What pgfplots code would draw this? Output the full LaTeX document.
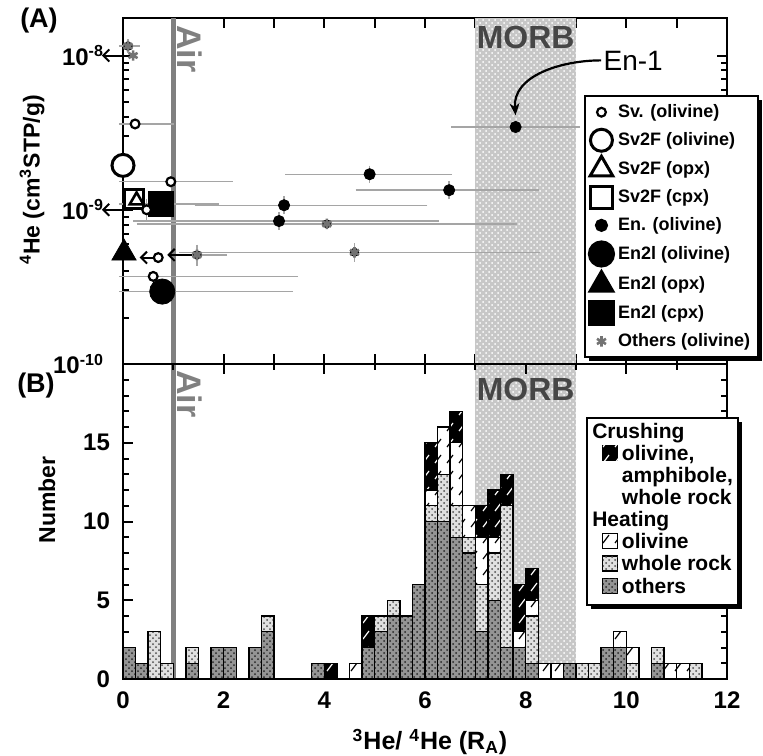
\documentclass[border=0pt]{standalone}
\usepackage{fontspec}
\setmainfont{Liberation Sans}
\usepackage{pgfplots}
\usepackage{pgfplotstable}
\pgfplotsset{compat=1.18}
\usetikzlibrary{patterns,shadows,arrows.meta}

\definecolor{airgray}{RGB}{128,128,128}
\definecolor{morbtext}{RGB}{70,70,70}
\definecolor{errgray}{RGB}{165,165,165}
\definecolor{othgray}{RGB}{115,115,115}

% sparse slash used for olivine / crushing bars
\pgfdeclarepatternformonly{sparse ne}{\pgfqpoint{-1pt}{-1pt}}{\pgfqpoint{7pt}{9pt}}{\pgfqpoint{6pt}{8pt}}{%
  \pgfsetlinewidth{0.6pt}%
  \pgfpathmoveto{\pgfqpoint{1.5pt}{2pt}}%
  \pgfpathlineto{\pgfqpoint{4.5pt}{6pt}}%
  \pgfusepath{stroke}}

\tikzset{
  oth/.style={fill=black!42, postaction={pattern=crosshatch dots, pattern color=black!85}},
  wr/.style={fill=black!12, postaction={pattern=crosshatch dots, pattern color=black!70}},
  olh/.style={fill=white, postaction={pattern=sparse ne, pattern color=black}},
  cru/.style={fill=black, postaction={pattern=sparse ne, pattern color=white}},
  morb/.style={fill=black!22, postaction={pattern=crosshatch dots, pattern color=white}},
  airline/.style={airgray, line width=2.6pt},
  airtxt/.style={airgray, font=\bfseries\fontsize{17}{17}\selectfont, rotate=-90, anchor=south west, inner sep=0pt},
  morbtxt/.style={morbtext, font=\bfseries\fontsize{16}{16}\selectfont, anchor=north, inner sep=0pt},
  larr/.style={black, line width=1pt, -{Straight Barb[length=3pt,width=6pt]}},
  boxshadow/.style={drop shadow={shadow xshift=2pt, shadow yshift=-2pt, fill=black, opacity=1}},
}
\newcommand{\swatch}[1]{\tikz[baseline=0pt]\draw[#1, draw=black, line width=0.6pt] (0,0) rectangle (7.5pt,7.5pt);}

\pgfplotsset{
  panel/.style={
    scale only axis, width=302pt, xmin=0, xmax=12, clip=false,
    axis line style={line width=1.3pt},
    every tick/.style={black, line width=1pt},
    major tick length=5pt, minor tick length=3pt,
    tick label style={font=\bfseries\fontsize{12}{12}\selectfont},
  },
}

% histogram, bins of 0.25 RA: others, whole rock, olivine (heating), crushing
\pgfplotstableread{
x oth wr ol cr
0.125 2 0 0 0
0.375 1 0 0 0
0.625 0 3 0 0
0.875 0 1 0 0
1.125 0 0 0 0
1.375 1 1 0 0
1.625 0 0 0 0
1.875 2 0 0 0
2.125 2 0 0 0
2.375 0 0 0 0
2.625 2 0 0 0
2.875 3 1 0 0
3.125 0 0 0 0
3.375 0 0 0 0
3.625 0 0 0 0
3.875 1 0 0 0
4.125 0 0 0 1
4.375 0 0 0 0
4.625 0 0 1 0
4.875 2 0 0 2
5.125 3 1 0 0
5.375 4 1 0 0
5.625 4 0 0 0
5.875 6 0 0 0
6.125 10 1 1 3
6.375 10 3 3 0
6.625 9 2 4 2
6.875 8 1 2 0
7.125 3 3 3 2
7.375 5 3 1 3
7.625 2 9 0 2
7.875 2 0 1 3
8.125 1 3 1 2
8.375 0 0 1 0
8.625 0 0 1 0
8.875 1 0 0 0
9.125 0 1 0 0
9.375 0 1 0 0
9.625 2 0 0 0
9.875 2 0 1 0
10.125 0 1 1 0
10.375 0 0 0 0
10.625 1 1 0 0
10.875 0 0 1 0
11.125 0 0 1 0
11.375 0 1 0 0
}\histdata

\begin{document}
\begin{tikzpicture}
\path[use as bounding box] (-61.5pt,9pt) rectangle (320pt,-368.5pt);

% ---------- (A) ----------
\begin{axis}[panel, name=top, at={(0,0)}, anchor=north west, height=173pt,
  ymode=log, ymin=1e-10, ymax=1.75e-8,
  xtick={0,...,12}, xticklabels={},
  ytick={1e-10,1e-9,1e-8},
  yticklabels={10\textsuperscript{-10},10\textsuperscript{-9},10\textsuperscript{-8}},
  minor ytick={2e-10,3e-10,4e-10,5e-10,6e-10,7e-10,8e-10,9e-10,2e-9,3e-9,4e-9,5e-9,6e-9,7e-9,8e-9,9e-9},
  yticklabel style={xshift=-6pt},
  legend style={at={(0.763,0.777)}, anchor=north west, draw=black, line width=1pt,
    fill=white, boxshadow, row sep=2pt, inner xsep=2pt, inner ysep=2pt,
    font=\bfseries\fontsize{9}{10}\selectfont},
  legend cell align=left,
]
\fill[morb] (axis cs:7,1e-10) rectangle (axis cs:9,1.75e-8);
\draw[airline] (axis cs:1,1e-10) -- (axis cs:1,1.75e-8);

% horizontal error bars
\addplot[only marks, mark=none, forget plot,
  error bars/.cd, x dir=both, x explicit,
  error bar style={draw=errgray, line width=0.7pt},
  error mark options={draw=errgray, line width=0.7pt, mark size=2pt}]
coordinates {
  (0.24,3.6e-9) += (0.7,0) -= (0.24,0)
  (0.95,1.52e-9) += (1.15,0) -= (0.95,0)
  (0.6,3.7e-10) += (2.8,0) -= (0.6,0)
  (0.78,2.95e-10) += (2.52,0) -= (0.78,0)
  (0.75,1.09e-9) += (1.08,0) -= (0.75,0)
  (3.2,1.07e-9) += (2.77,0) -= (1.7,0)
  (3.1,8.45e-10) += (3.1,0) -= (2.82,0)
  (4.9,1.7e-9) += (1.56,0) -= (1.6,0)
  (6.48,1.34e-9) += (1.7,0) -= (1.78,0)
  (7.8,3.44e-9) += (1.2,0) -= (1.2,0)
  (0.1,1.15e-8) += (0.15,0) -= (0.1,0)
  (4.05,8.1e-10) += (3.7,0) -= (3.7,0)
  (1.47,5.1e-10) += (0.52,0) -= (0,0)
  (4.6,5.3e-10) += (3.6,0) -= (3.4,0)
};
% vertical error bars
\addplot[only marks, mark=none, forget plot,
  error bars/.cd, y dir=both, y explicit,
  error bar style={draw=errgray, line width=0.7pt},
  error mark options={draw=errgray, line width=0.7pt, mark size=2pt}]
coordinates {
  (3.2,1.07e-9) +- (0,0.08e-9)
  (3.1,8.45e-10) +- (0,0.6e-10)
  (4.9,1.7e-9) +- (0,0.12e-9)
  (6.48,1.34e-9) +- (0,0.1e-9)
  (0.47,1e-9) +- (0,0.1e-9)
  (1.47,5.1e-10) +- (0,0.5e-10)
  (4.6,5.3e-10) +- (0,0.4e-10)
  (0.1,1.15e-8) +- (0,0.05e-8)
};

\draw[larr] (axis cs:0.15,1e-8) -- (axis cs:-0.42,1e-8);
\draw[larr] (axis cs:0.1,1e-9) -- (axis cs:-0.42,1e-9);
\draw[larr] (axis cs:0.62,4.9e-10) -- (axis cs:0.33,4.9e-10);
\draw[larr] (axis cs:1.38,5.1e-10) -- (axis cs:0.88,5.1e-10);

% markers
\addplot[only marks, forget plot, mark=*, mark size=6.3pt, black] coordinates {(0.78,2.95e-10)};
\addplot[only marks, forget plot, mark=square*, mark size=6.2pt, black] coordinates {(0.75,1.09e-9)};
\addplot[only marks, forget plot, mark=triangle*, mark size=7pt, black] coordinates {(0.02,5.24e-10)};
\addplot[only marks, forget plot, mark=square*, mark size=4.8pt,
  mark options={fill=white, draw=black, line width=1.5pt}] coordinates {(0.22,1.17e-9)};
\addplot[only marks, forget plot, mark=triangle*, mark size=4pt,
  mark options={fill=white, draw=black, line width=1.3pt}] coordinates {(0.27,1.15e-9)};
\addplot[only marks, forget plot, mark=*, mark size=5.5pt,
  mark options={fill=white, draw=black, line width=1.5pt}] coordinates {(0,1.94e-9)};
\addplot[only marks, forget plot, mark=*, mark size=2.2pt,
  mark options={fill=white, draw=black, line width=1.1pt}]
  coordinates {(0.24,3.6e-9) (0.95,1.52e-9) (0.47,1e-9) (0.7,4.9e-10) (0.6,3.7e-10)};
\addplot[only marks, forget plot, mark=*, mark size=2.8pt, black]
  coordinates {(3.2,1.07e-9) (3.1,8.45e-10) (4.9,1.7e-9) (6.48,1.34e-9) (7.8,3.44e-9)};
\addplot[only marks, forget plot, mark=asterisk, mark size=2.6pt,
  mark options={othgray, line width=1.3pt}]
  coordinates {(0.1,1.15e-8) (0.2,1e-8) (4.05,8.1e-10) (1.47,5.1e-10) (4.6,5.3e-10)};

% legend
\addlegendimage{only marks, mark=*, mark size=2.2pt, mark options={fill=white, draw=black, line width=1.1pt}}
\addlegendentry{Sv. (olivine)}
\addlegendimage{only marks, mark=*, mark size=5.5pt, mark options={fill=white, draw=black, line width=1.5pt}}
\addlegendentry{Sv2F (olivine)}
\addlegendimage{only marks, mark=triangle*, mark size=6.5pt, mark options={fill=white, draw=black, line width=1.5pt}}
\addlegendentry{Sv2F (opx)}
\addlegendimage{only marks, mark=square*, mark size=5.5pt, mark options={fill=white, draw=black, line width=1.5pt}}
\addlegendentry{Sv2F (cpx)}
\addlegendimage{only marks, mark=*, mark size=2.8pt, black}
\addlegendentry{En. (olivine)}
\addlegendimage{only marks, mark=*, mark size=6.3pt, black}
\addlegendentry{En2l (olivine)}
\addlegendimage{only marks, mark=triangle*, mark size=7pt, black}
\addlegendentry{En2l (opx)}
\addlegendimage{only marks, mark=square*, mark size=6.2pt, black}
\addlegendentry{En2l (cpx)}
\addlegendimage{only marks, mark=asterisk, mark size=2.6pt, mark options={othgray, line width=1.3pt}}
\addlegendentry{Others (olivine)}

\node[airtxt] at ([xshift=2pt,yshift=-3.5pt]axis cs:1,1.75e-8) {Air};
\node[morbtxt] at ([yshift=-4pt]axis cs:8,1.75e-8) {MORB};
\node[anchor=west, font=\fontsize{14}{14}\selectfont, inner sep=1pt] (en1) at (axis cs:9.5,9.3e-9) {En-1};
\draw[line width=1.1pt, -{Stealth[length=6pt,width=5pt]}] (en1.west) to[out=180,in=95] (axis cs:7.8,4.1e-9);
\end{axis}

% ---------- (B) background: MORB band and air line ----------
\begin{axis}[scale only axis, width=302pt, height=157.5pt, at={(top.south west)}, anchor=north west,
  xmin=0, xmax=12, ymin=0, ymax=20, hide axis]
\fill[morb] (axis cs:7,0) rectangle (axis cs:9,20);
\draw[airline] (axis cs:1,0) -- (axis cs:1,20);
\end{axis}

% ---------- (B) ----------
\begin{axis}[panel, name=bot, at={(top.south west)}, anchor=north west, height=157.5pt,
  ymin=0, ymax=20,
  xtick={0,2,...,12}, minor xtick={1,3,...,11},
  ytick={0,5,10,15}, minor ytick={1,2,3,4,6,7,8,9,11,12,13,14,16,17,18,19},
  ybar stacked, bar width=0.25,
  /pgf/number format/assume math mode=true,
  xticklabel style={yshift=-3pt}, yticklabel style={xshift=-3pt},
]
\addplot[oth, draw=black, line width=0.7pt] table[x=x,y=oth]{\histdata};
\addplot[wr, draw=black, line width=0.7pt] table[x=x,y=wr]{\histdata};
\addplot[olh, draw=black, line width=0.7pt] table[x=x,y=ol]{\histdata};
\addplot[cru, draw=black, line width=0.7pt] table[x=x,y=cr]{\histdata};

\node[airtxt] at ([xshift=2pt,yshift=-3pt]axis cs:1,20) {Air};
\node[morbtxt] at ([yshift=-7pt]axis cs:8,20) {MORB};

\node[draw=black, line width=1pt, fill=white, boxshadow, anchor=north west, inner sep=2.5pt,
  font=\bfseries\fontsize{10.5}{11}\selectfont] at (rel axis cs:0.767,0.832) {%
  \begin{tabular}{@{}l@{\,}l@{}}
  \multicolumn{2}{@{}l@{}}{Crushing}\\
  \hspace{5pt}\swatch{cru} & olivine,\\
   & amphibole,\\
   & whole rock\\
  \multicolumn{2}{@{}l@{}}{Heating}\\
  \hspace{5pt}\swatch{olh} & olivine\\
  \hspace{5pt}\swatch{wr} & whole rock\\
  \hspace{5pt}\swatch{oth} & others
  \end{tabular}};
\end{axis}

\node[font=\bfseries\fontsize{13.5}{14}\selectfont] at (-42pt,-1.5pt) {(A)};
\node[font=\bfseries\fontsize{13.5}{14}\selectfont] at (-43.5pt,-184pt) {(B)};
\node[rotate=90, font=\bfseries\fontsize{11.5}{12}\selectfont] at (-45.5pt,-81pt)
  {\textsuperscript{4}He (cm\textsuperscript{3}STP/g)};
\node[rotate=90, font=\bfseries\fontsize{11.5}{12}\selectfont] at (-38pt,-241pt) {Number};
\node[font=\bfseries\fontsize{12.5}{13}\selectfont] at (153.5pt,-362pt)
  {\textsuperscript{3}He/ \textsuperscript{4}He (R\textsubscript{A})};
\end{tikzpicture}
\end{document}
